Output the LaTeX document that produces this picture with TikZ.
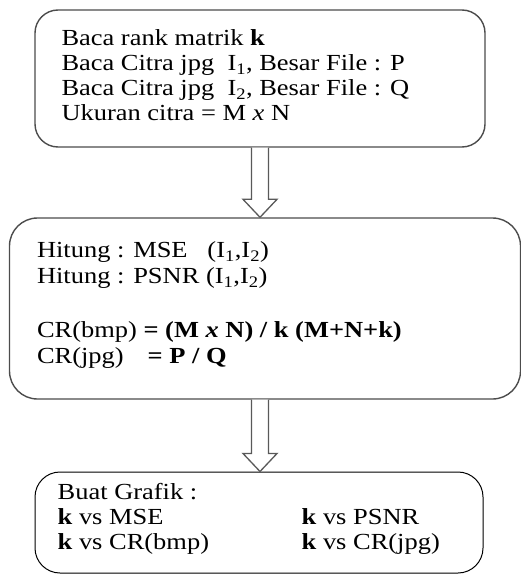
\documentclass[tikz,border=0pt]{standalone}
\usepackage{fontspec}
\setmainfont[FakeStretch=1.15]{Liberation Serif}
\usetikzlibrary{calc}

\tikzset{
	box/.style={draw=black!70, line width=1.4pt, fill=white},
	txt/.style={anchor=north west, align=left, inner sep=0pt, font=\fontsize{23}{25}\selectfont},
	hollow/.style={draw=black!65, line width=1.3pt, fill=white, line join=miter}
}

\begin{document}
\begin{tikzpicture}[x=1pt, y=-1pt]
	\useasboundingbox (0,0) rectangle (521,575);

	% the three steps
	\node[box, rounded corners=23pt, minimum width=450pt, minimum height=137pt] (baca) at (260,78.5) {};
	\node[box, rounded corners=28pt, minimum width=511pt, minimum height=181pt] (hitung) at (265,308.5) {};
	\node[box, draw=black, line width=1pt, rounded corners=25pt, minimum width=448pt, minimum height=101pt] (grafik) at (259,522.5) {};

	\node[txt] (bacatxt) at ($(baca.north west)+(27,20)$) {
		Baca rank matrik \textbf{k}\\
		Baca Citra jpg\ \ I\textsubscript{1}, Besar File : P\\
		Baca Citra jpg\ \ I\textsubscript{2}, Besar File : Q\\
		Ukuran citra = M \textit{x} N};

	\node[txt, font=\fontsize{23}{26}\selectfont] (hitungtxt) at ($(hitung.north west)+(28,24)$) {
		Hitung : MSE\ \ \ (I\textsubscript{1},I\textsubscript{2})\\
		Hitung : PSNR (I\textsubscript{1},I\textsubscript{2})\\[28pt]
		CR(bmp) \textbf{= (M \textit{x} N) / k (M+N+k)}\\
		CR(jpg)\hspace{24pt}\textbf{= P / Q}};

	\node[txt] (grafiktxt) at ($(grafik.north west)+(23,10)$) {%
		\begin{tabular}{@{}p{244pt}@{}l@{}}
			Buat Grafik : & \\
			\textbf{k} vs MSE & \textbf{k} vs PSNR\\
			\textbf{k} vs CR(bmp) & \textbf{k} vs CR(jpg)
		\end{tabular}};

	% block arrows between the steps
	\foreach \from/\to in {baca/hitung, hitung/grafik}{
		\coordinate (top) at (baca.south |- \from.south);
		\coordinate (tip) at (baca.south |- \to.north);
		\draw[hollow] ($(top)+(-8.5,0)$) -- ($(tip)+(-8.5,-18)$) -- ($(tip)+(-17,-18)$)
			-- (tip) -- ($(tip)+(17,-18)$) -- ($(tip)+(8.5,-18)$) -- ($(top)+(8.5,0)$);
	}
\end{tikzpicture}
\end{document}
